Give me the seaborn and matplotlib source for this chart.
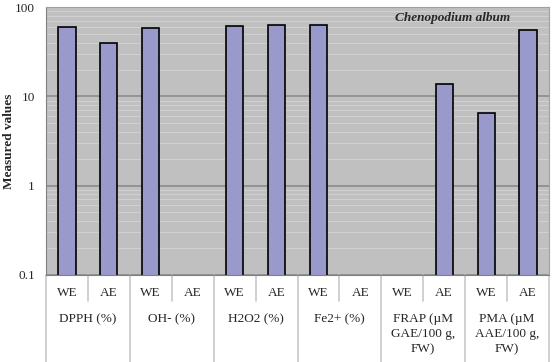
import numpy as np
import pandas as pd
import matplotlib
matplotlib.use("Agg")
import matplotlib.pyplot as plt
import matplotlib.transforms as mtransforms
from matplotlib.ticker import LogLocator, FixedLocator, NullFormatter
import seaborn as sns

# data (NaN = no bar)
groups = ["DPPH (%)", "OH- (%)", "H2O2 (%)", "Fe2+ (%)",
          "FRAP (\u00b5M\nGAE/100 g,\nFW)", "PMA (\u00b5M\nAAE/100 g,\nFW)"]
extracts = ["WE", "AE"]
we_values = [60, 58.5, 61, 64, np.nan, 6.5]
ae_values = [40, np.nan, 64, np.nan, 13.7, 55]

values = []
labels = []
for g, w, a in zip(groups, we_values, ae_values):
    values += [w, a]
    labels += [g + "|WE", g + "|AE"]

df = pd.DataFrame({"slot": labels, "value": values})

sns.set_style("white")
plt.rcParams['font.family'] = ['Liberation Serif', 'DejaVu Serif']
fs = 9.5

fig = plt.figure(figsize=(5.53, 3.62), dpi=100)
ax = fig.add_axes([46 / 553, 1 - 274.7 / 362, 503 / 553, 267.4 / 362])
ax.set_facecolor("#c0c0c0")

sns.barplot(data=df, x="slot", y="value", order=labels, color="#9999cc",
            saturation=1, width=0.41, edgecolor="black", linewidth=1.2, ax=ax)
ax.set_yscale("log")
ax.set_ylim(0.1, 100)
ax.set_xlim(-0.5, len(labels) - 0.5)

# grid lines
ax.yaxis.set_major_locator(FixedLocator([0.1, 1, 10, 100]))
ax.yaxis.set_minor_locator(LogLocator(base=10, subs=np.arange(2, 10)))
ax.yaxis.set_minor_formatter(NullFormatter())
ax.grid(True, which="minor", axis="y", color="#d0d0d0", linewidth=0.8)
ax.grid(True, which="major", axis="y", color="#8c8c8c", linewidth=1.2)
ax.set_axisbelow(True)
ax.set_yticklabels(["0.1", "1", "10", "100"])
ax.tick_params(axis="y", which="major", length=5, color="#808080", labelsize=fs, pad=3)
ax.tick_params(axis="y", which="minor", length=0)

for side in ["top", "right"]:
    ax.spines[side].set_color("#a0a0a0")
ax.spines["left"].set_color("#808080")
ax.spines["bottom"].set_color("#808080")

# category labels below
ax.set_xticks([])
ax.set_xlabel("")
ax.set_ylabel("")
fig.text(9 / 553, 1 - 141 / 362, "Measured values", rotation=90, ha="center",
         va="center", fontweight="bold", fontsize=fs)
trans = mtransforms.blended_transform_factory(ax.transData, ax.transAxes)
for i, lab in enumerate(labels):
    g, e = lab.split("|")
    ax.text(i, -0.068, e, transform=trans, ha="center", va="center", fontsize=fs)
for j, g in enumerate(groups):
    ax.text(2 * j + 0.5, -0.145, g, transform=trans, ha="center", va="top",
            fontsize=fs, linespacing=1.3)
for k in range(len(labels) + 1):
    x = k - 0.5
    y1 = -0.33 if k % 2 == 0 else -0.1
    ax.plot([x, x], [0, y1], transform=trans, color="#c8c8c8", lw=1.2, clip_on=False)

ax.text(0.809, 0.96, "Chenopodium album", transform=ax.transAxes, ha="center",
        va="center", fontsize=fs, fontstyle="italic", fontweight="bold")

fig.savefig("out.png", dpi=100)
